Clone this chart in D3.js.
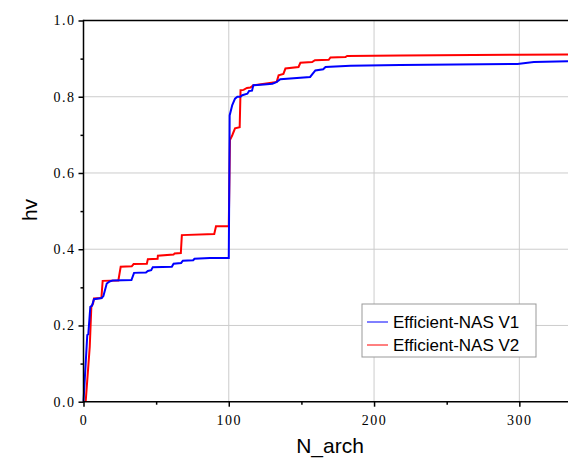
<!DOCTYPE html>
<html>
  <head>
    <meta charset="utf-8" />
    <title>hv vs N_arch</title>
    <script src="https://d3js.org/d3.v7.min.js"></script>
    <style>
      body { margin: 0; background: white; }
      .tick-label { font-family: "Liberation Serif", serif; font-size: 14px; letter-spacing: 1.5px; }
      .axis-title { font-family: "Liberation Sans", Arial, sans-serif; font-size: 21px; }
      .legend-text { font-family: "Liberation Sans", Arial, sans-serif; font-size: 17px; }
    </style>
  </head>
  <body>
    <svg id="viz"></svg>
    <script>

    // Efficient-NAS V1 (blue)
    var xV1 = [0, 2.6, 3.3, 4.7, 5.9, 7.2, 12.5, 13.7, 16, 17.8, 20, 33, 34.8, 43, 44.3, 46.6, 47.7, 60.8, 62, 67.2, 68.4, 75.5, 76.4, 87, 100,
               100.4, 100.6, 102.4, 104.3, 105.9, 108, 109.3, 112.8, 114, 116, 116.9, 124.3, 130, 132, 133, 135.5, 156, 159.6, 165, 166.6,
               183.8, 218, 298.7, 310, 333.5];
    var yV1 = [0, 0.175, 0.177, 0.249, 0.252, 0.269, 0.272, 0.277, 0.31, 0.315, 0.318, 0.319, 0.338, 0.339, 0.343, 0.345, 0.353, 0.354, 0.362, 0.364, 0.37, 0.371, 0.375, 0.377, 0.377,
               0.6, 0.751, 0.778, 0.795, 0.8, 0.8, 0.804, 0.808, 0.815, 0.816, 0.83, 0.832, 0.834, 0.837, 0.839, 0.846, 0.852, 0.869, 0.872, 0.878,
               0.881, 0.883, 0.886, 0.891, 0.893];

    // Efficient-NAS V2 (red)
    var xV2 = [1.5, 4.3, 5.4, 6.6, 7.2, 12.3, 13.2, 24, 25.6, 33.2, 34.5, 43.6, 44.3, 51, 51.2, 62, 62.7, 67, 67.7, 90, 91.2, 100,
               100.8, 102.4, 104.3, 107.5, 108.1, 110.2, 112.5, 114.8, 117, 133, 134.3, 137.6, 139, 148, 149.3, 157.4, 159.3, 168.8, 170,
               180.3, 181.5, 218, 298.7, 333.5];
    var yV2 = [0, 0.144, 0.249, 0.258, 0.271, 0.272, 0.317, 0.318, 0.354, 0.355, 0.361, 0.362, 0.374, 0.375, 0.383, 0.386, 0.389, 0.39, 0.437, 0.44, 0.46, 0.46,
               0.686, 0.699, 0.717, 0.72, 0.817, 0.818, 0.823, 0.824, 0.83, 0.839, 0.856, 0.86, 0.874, 0.878, 0.889, 0.891, 0.896, 0.897, 0.903,
               0.904, 0.907, 0.908, 0.91, 0.911];

    var seriesNames = ["Efficient-NAS V1", "Efficient-NAS V2"];
    var seriesColors = ["#0000ff", "#ff0000"];

    var xMajor = [0, 100, 200, 300];
    var xMinor = [50, 150, 250];
    var yMajor = [0, 0.2, 0.4, 0.6, 0.8, 1.0];
    var yMinor = [0.1, 0.3, 0.5, 0.7, 0.9];

    var width = 568, height = 459;

    var svg = d3.select("#viz")
      .attr("width", width)
      .attr("height", height);

    var x = d3.scaleLinear().domain([0, 333.5]).range([83.5, 568]);
    var y = d3.scaleLinear().domain([0, 1]).range([401.7, 20.5]);

    //grid lines
    svg.append("g").selectAll("line")
      .data(xMajor.slice(1))
      .enter().append("line")
      .attr("x1", function(d) { return x(d); })
      .attr("x2", function(d) { return x(d); })
      .attr("y1", y(0))
      .attr("y2", y(1))
      .attr("stroke", "#cccccc")
      .attr("stroke-width", 1);

    svg.append("g").selectAll("line")
      .data(yMajor.slice(1, -1))
      .enter().append("line")
      .attr("x1", x(0))
      .attr("x2", width)
      .attr("y1", function(d) { return y(d); })
      .attr("y2", function(d) { return y(d); })
      .attr("stroke", "#cccccc")
      .attr("stroke-width", 1);

    //lines, red first so blue sits on top
    var line = d3.line()
      .x(function(d) { return x(d[0]); })
      .y(function(d) { return y(d[1]); });

    var dataV1 = xV1.map(function(v, i) { return [v, yV1[i]]; });
    var dataV2 = xV2.map(function(v, i) { return [v, yV2[i]]; });

    svg.append("path")
      .datum(dataV2)
      .attr("d", line)
      .attr("fill", "none")
      .attr("stroke", seriesColors[1])
      .attr("stroke-width", 2);

    svg.append("path")
      .datum(dataV1)
      .attr("d", line)
      .attr("fill", "none")
      .attr("stroke", seriesColors[0])
      .attr("stroke-width", 2);

    //axes
    var xAxis = svg.append("g")
      .attr("transform", "translate(0," + y(0) + ")")
      .call(d3.axisBottom(x).tickValues(xMajor).tickSize(5).tickFormat(d3.format("d")));
    xAxis.append("g").call(d3.axisBottom(x).tickValues(xMinor).tickSize(3).tickFormat(""));

    var yAxis = svg.append("g")
      .attr("transform", "translate(" + x(0) + ",0)")
      .call(d3.axisLeft(y).tickValues(yMajor).tickSize(5).tickFormat(d3.format(".1f")));
    yAxis.append("g").call(d3.axisLeft(y).tickValues(yMinor).tickSize(3).tickFormat(""));

    svg.selectAll(".domain").remove();
    svg.selectAll(".tick line").attr("stroke", "#000").attr("stroke-width", 1.5);
    svg.selectAll(".tick text").attr("class", "tick-label").attr("fill", "#000");
    xAxis.selectAll(".tick text").attr("dy", "1.1em");

    //frame: left, bottom, top
    svg.append("line").attr("x1", x(0)).attr("x2", width).attr("y1", y(0)).attr("y2", y(0))
      .attr("stroke", "#000").attr("stroke-width", 1.5);
    svg.append("line").attr("x1", x(0)).attr("x2", x(0)).attr("y1", y(0) + 0.75).attr("y2", y(1) - 0.75)
      .attr("stroke", "#000").attr("stroke-width", 1.5);
    svg.append("line").attr("x1", x(0)).attr("x2", width).attr("y1", y(1)).attr("y2", y(1))
      .attr("stroke", "#000").attr("stroke-width", 1.5);

    //axis titles
    svg.append("text")
      .attr("class", "axis-title")
      .attr("x", 330)
      .attr("y", 453)
      .attr("text-anchor", "middle")
      .text("N_arch");

    svg.append("text")
      .attr("class", "axis-title")
      .attr("transform", "translate(37,210) rotate(-90)")
      .attr("text-anchor", "middle")
      .text("hv");

    //legend
    var legend = svg.append("g");
    legend.append("rect")
      .attr("x", 362)
      .attr("y", 304)
      .attr("width", 174)
      .attr("height", 53)
      .attr("fill", "white")
      .attr("stroke", "#999999")
      .attr("stroke-width", 1);

    seriesNames.forEach(function(name, i) {
      var ly = 322 + i * 23;
      legend.append("line")
        .attr("x1", 367).attr("x2", 388)
        .attr("y1", ly).attr("y2", ly)
        .attr("stroke", seriesColors[i])
        .attr("stroke-width", 1);
      legend.append("text")
        .attr("class", "legend-text")
        .attr("x", 393)
        .attr("y", ly + 6)
        .text(name);
    });

    </script>
  </body>
</html>
